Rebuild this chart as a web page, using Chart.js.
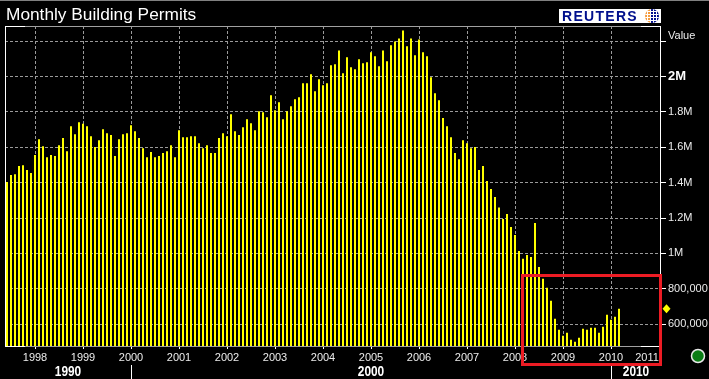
<!DOCTYPE html>
<html lang="en">
<head>
  <meta charset="UTF-8">
  <title>Monthly Building Permits</title>
  <script src="https://cdn.jsdelivr.net/npm/chart.js"></script>
  <style>
    body { margin: 0; background: #000; }
    canvas { display: block; }
  </style>
</head>
<body>
<canvas id="permitsChart" width="709" height="379"></canvas>

<script>
  // monthly permits, June 1997 to March 2010
  const permits = [
    1403000, 1443000, 1448000, 1494000, 1499000, 1471000, 1454000,
    1556000, 1646000, 1606000, 1544000, 1556000, 1550000, 1612000, 1652000, 1578000, 1719000, 1674000, 1742000,
    1733000, 1719000, 1663000, 1601000, 1640000, 1702000, 1680000, 1669000, 1550000, 1646000, 1674000, 1680000,
    1725000, 1691000, 1652000, 1595000, 1544000, 1573000, 1544000, 1550000, 1567000, 1578000, 1612000, 1544000,
    1697000, 1657000, 1657000, 1663000, 1663000, 1623000, 1595000, 1612000, 1567000, 1567000, 1652000, 1680000,
    1663000, 1787000, 1691000, 1669000, 1714000, 1759000, 1736000, 1697000, 1804000, 1798000, 1770000, 1894000,
    1810000, 1855000, 1759000, 1804000, 1832000, 1872000, 1883000, 1962000, 1962000, 2013000, 1917000, 1985000,
    1951000, 1962000, 2064000, 2069000, 2148000, 2019000, 2109000, 2052000, 2041000, 2098000, 2075000, 2081000,
    2137000, 2115000, 2058000, 2148000, 2086000, 2177000, 2199000, 2216000, 2261000, 2171000, 2216000, 2120000,
    2210000, 2137000, 2115000, 1996000, 1906000, 1866000, 1765000, 1719000, 1657000, 1567000, 1533000, 1640000,
    1623000, 1595000, 1601000, 1471000, 1494000, 1409000, 1364000, 1319000, 1260000, 1194000, 1223000, 1149000,
    1104000, 1014000, 969000, 991000, 980000, 1172000, 923000, 856000, 805000, 732000, 630000, 568000,
    534000, 551000, 511000, 500000, 523000, 573000, 568000, 579000, 579000, 551000, 585000, 653000,
    624000, 641000, 686000
  ];
  const yTickValues = [600000, 800000, 1000000, 1200000, 1400000, 1600000, 1800000, 2000000, 2200000, 2227000];
  const yTickLabels = ['600,000', '800,000', '1M', '1.2M', '1.4M', '1.6M', '1.8M', '2M', '', 'Value'];
  const decades = ['1990', '2000', '2010'];

  // months from June 1997 out to January 2011, the end of the time axis
  const months = [];
  for (let y = 1997, m = 6; ; m++) {
    if (m > 12) { m = 1; y++; }
    months.push(y + '-' + String(m).padStart(2, '0'));
    if (y === 2011) break;
  }

  const isJan = i => months[i] && months[i].endsWith('-01');
  const gridColor = '#9a9a9a';
  const textColor = '#ececec';
  const labelFont = { family: 'Liberation Sans', size: 11 };

  // bold text squeezed sideways, like the decade labels of the original
  function narrowText(ctx, text, cx, cy) {
    ctx.save();
    ctx.translate(cx, cy);
    ctx.scale(0.85, 1);
    ctx.fillText(text, 0, 0);
    ctx.restore();
  }

  // title, frame, logo, decade row, red box and the marker on the last value
  const extras = {
    id: 'extras',
    afterDatasetsDraw(chart) {
      const { ctx, chartArea: a, scales: { x, y } } = chart;
      ctx.save();

      ctx.fillStyle = '#808080';
      ctx.fillRect(0, 0, 709, 1);

      ctx.fillStyle = '#fff';
      ctx.font = '17.3px "Liberation Sans"';
      ctx.textBaseline = 'alphabetic';
      ctx.textAlign = 'left';
      ctx.fillText('Monthly Building Permits', 6, 20);

      // frame: gray lines with white corners
      ctx.fillStyle = '#a0a0a0';
      ctx.fillRect(a.left, a.top, a.width, 1);
      ctx.fillRect(a.left, a.bottom, a.width, 1);
      ctx.fillStyle = '#fff';
      ctx.fillRect(a.left, a.top, 1, a.height + 1);
      ctx.fillRect(a.right - 1, a.top, 1, a.height + 1);
      ctx.fillRect(a.left, a.top, 20, 1);
      ctx.fillRect(a.left, a.bottom, 20, 1);
      ctx.fillRect(a.right - 20, a.top, 20, 1);
      ctx.fillRect(a.right - 20, a.bottom, 20, 1);

      // logo
      ctx.fillStyle = '#fff';
      ctx.fillRect(559, 9, 102, 14);
      ctx.fillStyle = '#000f8c';
      ctx.font = 'bold 14px "Liberation Sans"';
      ctx.letterSpacing = '1.3px';
      ctx.fillText('REUTERS', 562, 21);
      ctx.letterSpacing = '0px';
      ctx.save();
      ctx.beginPath();
      ctx.arc(652, 16, 7, 0, Math.PI * 2);
      ctx.clip();
      ctx.fillStyle = '#f59a3c';
      ctx.fillRect(645, 9, 6, 14);
      ctx.fillStyle = '#000f8c';
      ctx.fillRect(651, 9, 8, 14);
      ctx.fillStyle = '#fff';
      for (let i = 0; i < 4; i++) {
        ctx.fillRect(647 + i * 3, 9, 1, 14);
        ctx.fillRect(645, 11 + i * 3, 14, 1);
      }
      ctx.restore();

      // decade row
      const x2000 = Math.round(x.getPixelForValue(months.indexOf('2000-01')));
      const x2010 = Math.round(x.getPixelForValue(months.indexOf('2010-01')));
      ctx.fillStyle = '#fff';
      ctx.fillRect(x2000, 365, 1, 14);
      ctx.fillRect(x2010, 365, 1, 14);
      ctx.font = 'bold 14px "Liberation Sans"';
      ctx.textAlign = 'center';
      ctx.textBaseline = 'middle';
      narrowText(ctx, decades[0], (a.left + x2000) / 2, 372);
      narrowText(ctx, decades[1], (x2000 + x2010) / 2, 372);
      narrowText(ctx, decades[2], (x2010 + a.right) / 2, 372);

      // red box
      ctx.strokeStyle = '#ed1c24';
      ctx.lineWidth = 3;
      ctx.strokeRect(522.5, 275.5, 138, 89);

      // last value diamond
      const dy = y.getPixelForValue(permits[permits.length - 1]);
      ctx.fillStyle = '#ffff00';
      ctx.beginPath();
      ctx.moveTo(662.5, dy);
      ctx.lineTo(666.5, dy - 4.5);
      ctx.lineTo(670.5, dy);
      ctx.lineTo(666.5, dy + 4.5);
      ctx.closePath();
      ctx.fill();

      // status light
      ctx.fillStyle = '#0a7d14';
      ctx.strokeStyle = '#e8e8e8';
      ctx.lineWidth = 1.5;
      ctx.beginPath();
      ctx.arc(698, 356, 6.5, 0, Math.PI * 2);
      ctx.fill();
      ctx.stroke();

      ctx.restore();
    }
  };

  const ctx = document.getElementById('permitsChart').getContext('2d');
  new Chart(ctx, {
    type: 'bar',
    plugins: [extras],
    data: {
      labels: months,
      datasets: [{
        data: permits,
        backgroundColor: '#ffff00',
        barPercentage: 0.5,
        categoryPercentage: 1
      }]
    },
    options: {
      responsive: false,
      animation: false,
      layout: { padding: { left: 5, top: 26, right: 0, bottom: 0 } },
      plugins: { legend: { display: false }, tooltip: { enabled: false } },
      scales: {
        x: {
          afterFit: s => { s.height = 33; },
          border: { display: false, dash: [3, 2] },
          grid: {
            offset: false,
            color: c => isJan(c.index) && months[c.index] !== '2011-01' ? gridColor : 'transparent',
            tickColor: c => isJan(c.index) && months[c.index] !== '2011-01' ? '#fff' : 'transparent',
            tickLength: 3
          },
          ticks: {
            autoSkip: false,
            maxRotation: 0,
            padding: 2,
            color: textColor,
            font: labelFont,
            // the 2011 label sits a little inside the axis end so it stays on the chart
            callback(v, i) {
              if (months[i] === '2010-10') return '2011';
              return isJan(i) && months[i] !== '2011-01' ? months[i].slice(0, 4) : '';
            }
          }
        },
        y: {
          position: 'right',
          min: 476000,
          max: 2286000,
          afterFit: s => { s.width = 48; },
          afterBuildTicks: s => { s.ticks = yTickValues.map(value => ({ value })); },
          border: { display: false, dash: [3, 2] },
          grid: {
            color: c => c.tick && c.tick.value === 2227000 ? 'transparent' : gridColor,
            tickColor: c => c.tick && (c.tick.value === 2227000) ? 'transparent' : '#fff',
            tickBorderDash: [],
            tickLength: 5
          },
          ticks: {
            autoSkip: false,
            padding: 2,
            color: c => c.tick && c.tick.value === 2000000 ? '#fff' : textColor,
            font: c => c.tick && c.tick.value === 2000000
              ? { family: 'Liberation Sans', size: 13, weight: 'bold' }
              : labelFont,
            callback: (v, i) => yTickLabels[i]
          }
        }
      }
    }
  });
</script>
</body>
</html>
